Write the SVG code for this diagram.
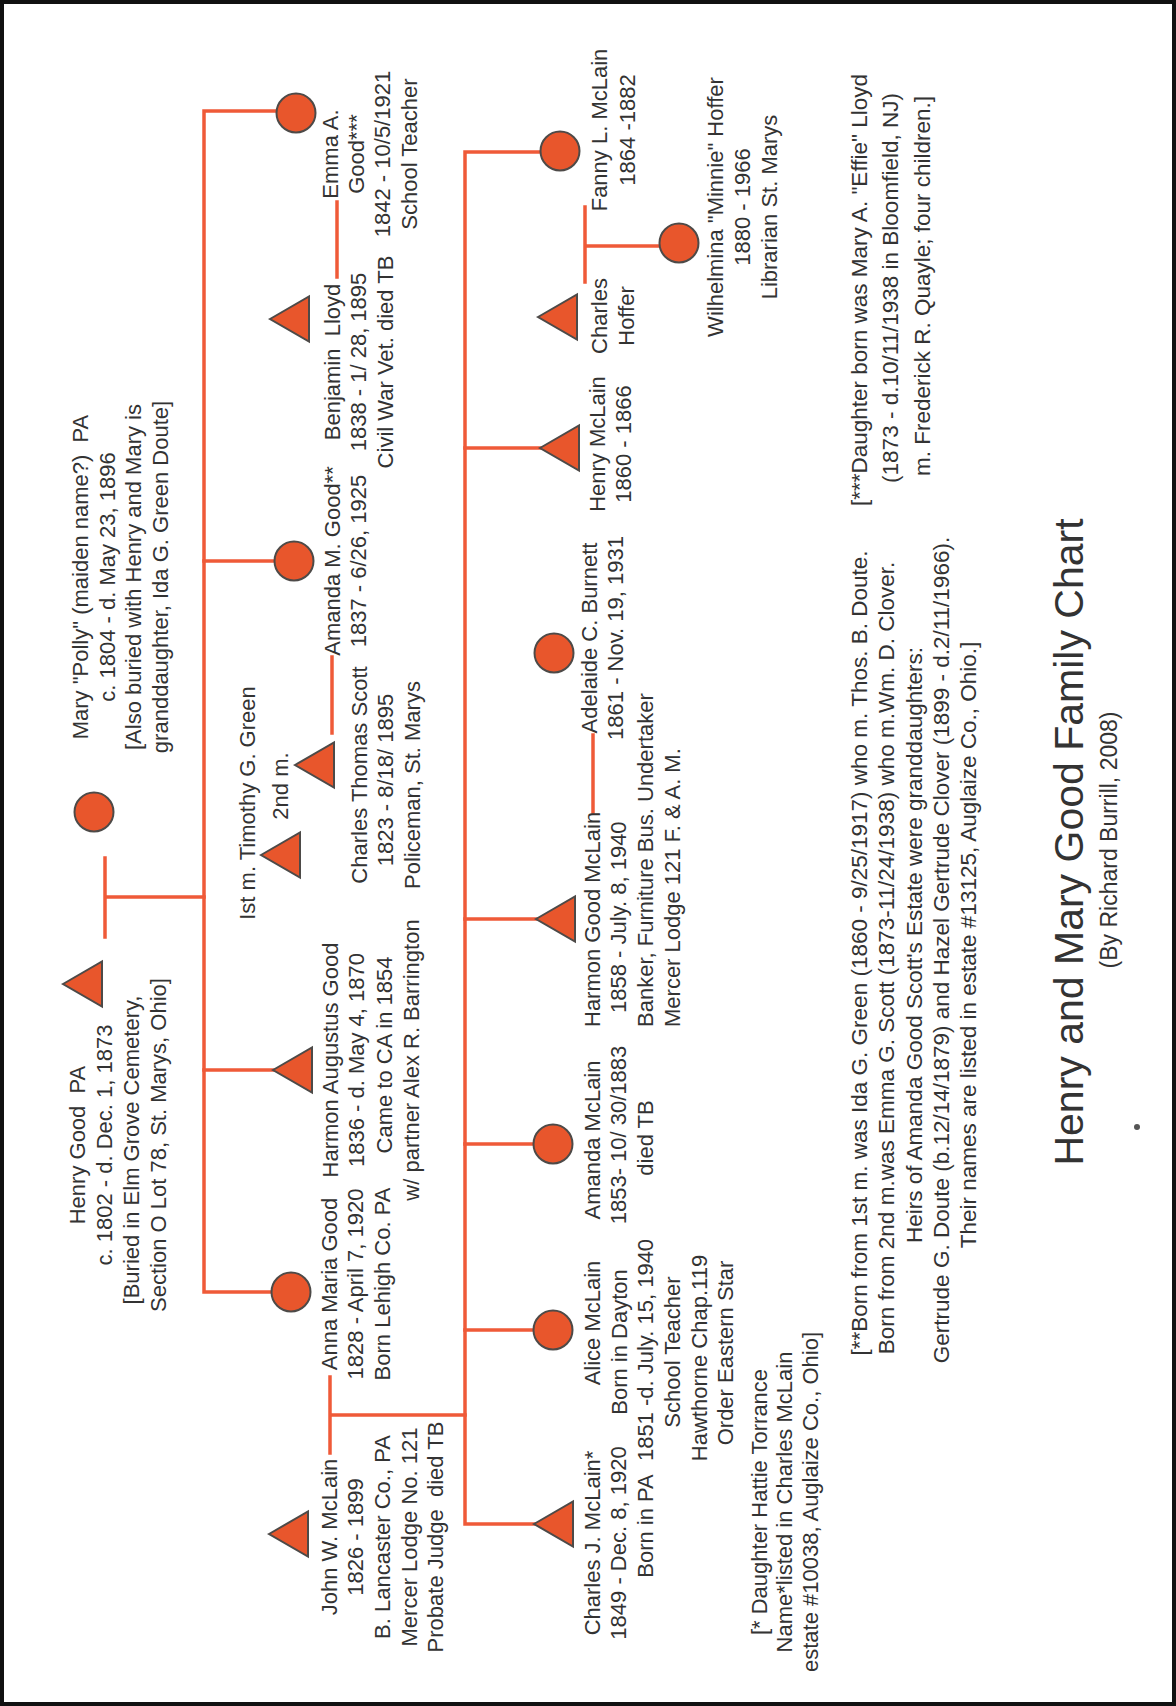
<svg xmlns="http://www.w3.org/2000/svg" xmlns:xlink="http://www.w3.org/1999/xlink" width="1176" height="1706" viewBox="0 0 1176 1706">
<style>
.t{font-family:"Liberation Sans",Arial,sans-serif;font-size:22px;fill:#333;text-anchor:middle}
.s{text-anchor:start}
.fn{font-size:22.5px}
.title{font-size:41px}
.sub{font-size:23px}
.ln{stroke:#EF5A38;stroke-width:3.5;fill:none;stroke-linecap:square}
.m{fill:#E8562C;stroke:#4d4a48;stroke-width:2}
</style>
<defs>
<polygon id="tri" points="0,0 39,-22.5 39,22.5"/>
</defs>
<rect x="0" y="0" width="1176" height="1706" fill="#fff"/>
<rect x="2" y="2" width="1172" height="1702" fill="none" stroke="#111" stroke-width="4"/>

<g id="connectors" class="ln">
<path d="M105,858 V937 M105,897 H204"/>
<path d="M277,111 H204 V1292 H271"/>
<path d="M204,561 H274 M204,1070 H273"/>
<path d="M337,202 V277"/>
<path d="M332,657 V733"/>
<path d="M330,1377 V1453 M330,1415 H465"/>
<path d="M540,152 H465 V1524 H534"/>
<path d="M465,448 H540 M465,919 H536 M465,1144 H533 M465,1330 H533"/>
<path d="M585,207 V282 M585,246 H660"/>
<path d="M593,735 V812"/>
</g>

<g id="henry-good">
<use xlink:href="#tri" x="63" y="984" class="m"/>
<text class="t" transform="translate(85 1145) rotate(-90)" xml:space="preserve"><tspan x="0" y="0">Henry Good&#160; PA</tspan><tspan x="0" y="27">c. 1802 - d. Dec. 1, 1873</tspan><tspan x="-5" y="54">[Buried in Elm Grove Cemetery,</tspan><tspan x="0" y="81">Section O Lot 78, St. Marys, Ohio]</tspan></text>
</g>

<g id="mary-polly">
<circle cx="94" cy="812" r="19.5" class="m"/>
<text class="t" transform="translate(88 577) rotate(-90)"><tspan x="0" y="0">Mary "Polly" (maiden name?)&#160; PA</tspan><tspan x="0" y="27">c. 1804 - d. May 23, 1896</tspan><tspan x="0" y="53">[Also buried with Henry and Mary is</tspan><tspan x="0" y="80">granddaughter, Ida G. Green Doute]</tspan></text>
</g>

<g id="emma-good">
<circle cx="296" cy="113" r="19.5" class="m"/>
<text class="t" transform="translate(338 154) rotate(-90)"><tspan x="0" y="0">Emma A.</tspan><tspan x="0" y="26">Good***</tspan><tspan x="0" y="52">1842 - 10/5/1921</tspan><tspan x="0" y="79">School Teacher</tspan></text>
</g>

<g id="benjamin-lloyd">
<use xlink:href="#tri" x="270" y="319" class="m"/>
<text class="t" transform="translate(340 362) rotate(-90)"><tspan x="0" y="0">Benjamin&#160; Lloyd</tspan><tspan x="0" y="26">1838 - 1/ 28, 1895</tspan><tspan x="0" y="53">Civil War Vet. died TB</tspan></text>
</g>

<g id="amanda-good">
<circle cx="294" cy="561" r="19.5" class="m"/>
<text class="t" transform="translate(340 561) rotate(-90)"><tspan x="0" y="0">Amanda M. Good**</tspan><tspan x="0" y="26">1837 - 6/26, 1925</tspan></text>
</g>

<g id="timothy-green">
<use xlink:href="#tri" x="261" y="855" class="m"/>
<text class="t" transform="translate(255 803) rotate(-90)">Ist m. Timothy G. Green</text>
</g>

<g id="charles-scott">
<use xlink:href="#tri" x="295" y="765" class="m"/>
<text class="t" transform="translate(288 786) rotate(-90)">2nd m.</text>
<text class="t" transform="translate(367 780) rotate(-90)"><tspan x="5" y="0">Charles Thomas Scott</tspan><tspan x="0" y="26">1823 - 8/18/ 1895</tspan><tspan x="-5" y="53">Policeman, St. Marys</tspan></text>
</g>

<g id="harmon-augustus-good">
<use xlink:href="#tri" x="273" y="1070" class="m"/>
<text class="t" transform="translate(338 1060) rotate(-90)"><tspan x="0" y="0">Harmon Augustus Good</tspan><tspan x="0" y="26">1836 - d. May 4, 1870</tspan><tspan x="5" y="54">Came to CA in 1854</tspan><tspan x="0" y="81">w/ partner Alex R. Barrington</tspan></text>
</g>

<g id="anna-maria-good">
<circle cx="291" cy="1292" r="19.5" class="m"/>
<text class="t" transform="translate(337 1284) rotate(-90)"><tspan x="0" y="0">Anna Maria Good</tspan><tspan x="0" y="26">1828 - April 7, 1920</tspan><tspan x="0" y="53">Born Lehigh Co. PA</tspan></text>
</g>

<g id="john-mclain">
<use xlink:href="#tri" x="269" y="1534" class="m"/>
<text class="t" transform="translate(337 1537) rotate(-90)"><tspan x="0" y="0">John W. McLain</tspan><tspan x="0" y="26">1826 - 1899</tspan><tspan x="0" y="53">B. Lancaster Co., PA</tspan><tspan x="0" y="80">Mercer Lodge No. 121</tspan><tspan x="0" y="106">Probate Judge&#160; died TB</tspan></text>
</g>

<g id="fanny-mclain">
<circle cx="560" cy="151" r="19.5" class="m"/>
<text class="t" transform="translate(607 130) rotate(-90)"><tspan x="0" y="0">Fanny L. McLain</tspan><tspan x="0" y="28">1864 -1882</tspan></text>
</g>

<g id="charles-hoffer">
<use xlink:href="#tri" x="538" y="317" class="m"/>
<text class="t" transform="translate(607 316) rotate(-90)"><tspan x="0" y="0">Charles</tspan><tspan x="0" y="27">Hoffer</tspan></text>
</g>

<g id="wilhelmina-hoffer">
<circle cx="679" cy="243" r="19.5" class="m"/>
<text class="t" transform="translate(723 207) rotate(-90)"><tspan x="0" y="0">Wilhelmina "Minnie" Hoffer</tspan><tspan x="0" y="27">1880 - 1966</tspan><tspan x="0" y="54">Librarian St. Marys</tspan></text>
</g>

<g id="henry-mclain">
<use xlink:href="#tri" x="540" y="448" class="m"/>
<text class="t" transform="translate(605 444) rotate(-90)"><tspan x="0" y="0">Henry McLain</tspan><tspan x="0" y="26">1860 - 1866</tspan></text>
</g>

<g id="adelaide-burnett">
<circle cx="554" cy="653" r="19.5" class="m"/>
<text class="t" transform="translate(597 638) rotate(-90)"><tspan x="0" y="0">Adelaide C. Burnett</tspan><tspan x="0" y="26">1861 - Nov. 19, 1931</tspan></text>
</g>

<g id="harmon-good-mclain">
<use xlink:href="#tri" x="536" y="919" class="m"/>
<text class="t s" transform="translate(600 1027) rotate(-90)"><tspan x="0" y="0">Harmon Good McLain</tspan><tspan x="14" y="26">1858 - July. 8, 1940</tspan><tspan x="0" y="53">Banker, Furniture Bus. Undertaker</tspan><tspan x="0" y="80">Mercer Lodge 121 F. &amp; A. M.</tspan></text>
</g>

<g id="amanda-mclain">
<circle cx="553" cy="1144" r="19.5" class="m"/>
<text class="t" transform="translate(600 1138) rotate(-90)"><tspan x="-2" y="0">Amanda McLain</tspan><tspan x="3" y="26">1853- 10/ 30/1883</tspan><tspan x="0" y="53">died TB</tspan></text>
</g>

<g id="alice-mclain">
<circle cx="553" cy="1330" r="19.5" class="m"/>
<text class="t" transform="translate(600 1340) rotate(-90)"><tspan x="17" y="0">Alice McLain</tspan><tspan x="-2" y="27">Born in Dayton</tspan><tspan x="-10" y="53">1851 -d. July. 15, 1940</tspan><tspan x="-12" y="80">School Teacher</tspan><tspan x="-18" y="107">Hawthorne Chap.119</tspan><tspan x="-13" y="133">Order Eastern Star</tspan></text>
</g>

<g id="charles-j-mclain">
<use xlink:href="#tri" x="534" y="1524" class="m"/>
<text class="t" transform="translate(600 1543) rotate(-90)"><tspan x="0" y="0">Charles J. McLain*</tspan><tspan x="0" y="26">1849 - Dec. 8, 1920</tspan><tspan x="17" y="53">Born in PA</tspan></text>
</g>

<g id="notes">
<text class="t" transform="translate(767 1502) rotate(-90)"><tspan x="0" y="0">[* Daughter Hattie Torrance</tspan><tspan x="0" y="25">Name*listed in Charles McLain</tspan><tspan x="0" y="51">estate #10038, Auglaize Co., Ohio]</tspan></text>
<text class="t fn" transform="translate(867 953) rotate(-90)"><tspan x="0" y="0">[**Born from 1st m. was Ida G. Green (1860 - 9/25/1917) who m. Thos. B. Doute.</tspan><tspan x="-5" y="27">Born from 2nd m.was Emma G. Scott (1873-11/24/1938) who m.Wm. D. Clover.</tspan><tspan x="8" y="55">Heirs of Amanda Good Scott's Estate were granddaughters:</tspan><tspan x="3" y="82">Gertrude G. Doute (b.12/14/1879) and Hazel Gertrude Clover (1899 - d.2/11/1966).</tspan><tspan x="8" y="109">Their names are listed in estate #13125, Auglaize Co., Ohio.]</tspan></text>
<text class="t fn" transform="translate(867 290) rotate(-90)"><tspan x="0" y="0">[***Daughter born was Mary A. "Effie" Lloyd</tspan><tspan x="2" y="31">(1873 - d.10/11/1938 in Bloomfield, NJ)</tspan><tspan x="4" y="63">m. Frederick R. Quayle; four children.]</tspan></text>
</g>

<g id="title">
<text class="t title" transform="translate(1083 842) rotate(-90)">Henry and Mary Good Family Chart</text>
<text class="t sub" transform="translate(1117 840) rotate(-90)">(By Richard Burrill, 2008)</text>
<circle cx="1137" cy="1127" r="3" fill="#555"/>
</g>
</svg>
